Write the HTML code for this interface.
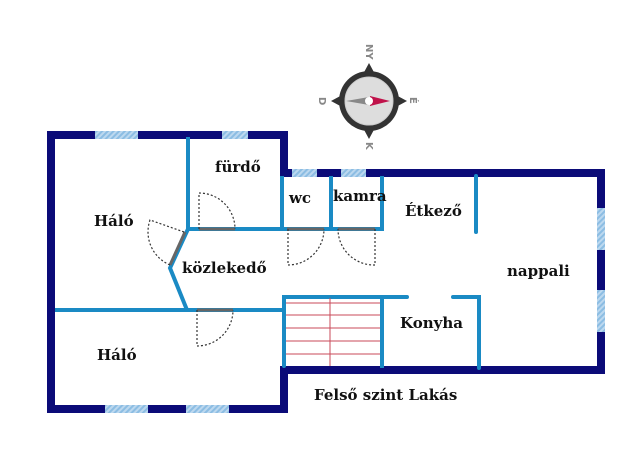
<!DOCTYPE html>
<html><head><style>body{margin:0;background:#fff}svg{display:block}text{font-family:"DejaVu Serif","Liberation Serif",serif;font-weight:bold;font-size:15px;fill:#111}</style></head><body>
<svg width="640" height="452" viewBox="0 0 640 452">
<defs><pattern id="h" width="4" height="4" patternUnits="userSpaceOnUse" patternTransform="rotate(45)"><rect width="4" height="4" fill="#bcd8ef"/><rect width="2" height="4" fill="#8cbde3"/></pattern></defs>
<g fill="#0b0b78">
<rect x="47" y="131" width="240" height="8"/>
<rect x="280" y="131" width="8" height="46"/>
<rect x="280" y="169" width="325" height="8"/>
<rect x="597" y="169" width="8" height="205"/>
<rect x="280" y="366" width="325" height="8"/>
<rect x="280" y="366" width="8" height="47"/>
<rect x="47" y="405" width="241" height="8"/>
<rect x="47" y="131" width="8" height="282"/>
</g>
<g fill="url(#h)">
<rect x="95" y="131" width="43" height="8"/><rect x="222" y="131" width="26" height="8"/>
<rect x="292" y="169" width="25" height="8"/><rect x="341" y="169" width="25" height="8"/>
<rect x="597" y="208" width="8" height="42"/><rect x="597" y="290" width="8" height="42"/>
<rect x="105" y="405" width="43" height="8"/><rect x="186" y="405" width="43" height="8"/>
</g>
<g stroke="#1a8ac4" stroke-width="4" fill="none" stroke-linecap="butt">
<path d="M188 137V229H384"/>
<path d="M282 176V229M331 176V229M382 176V231"/>
<path d="M476 176V232" stroke-linecap="round"/>
<path d="M188 229L170 268L187 310"/>
<path d="M55 310H284"/>
<path d="M284 366V297H407" stroke-linecap="round"/>
<path d="M453 297H479V368" stroke-linecap="round"/>
<path d="M382 297V368"/>
</g>
<g stroke="#c84a5a" stroke-width="1">
<path d="M286 303H380M286 315H380M286 328H380M286 341H380M286 354H380M330 298V366"/>
</g>
<g stroke="#666" stroke-width="3">
<path d="M199 229H235M287 229H324M338 229H375M197 310H233M185 232L170 265"/>
</g>
<g stroke="#333" stroke-width="1.2" stroke-dasharray="2,2" fill="none">
<path d="M199 229V193A36 36 0 0 1 235 229"/>
<path d="M288 229V265A36 36 0 0 0 324 229"/>
<path d="M375 229V265A36 36 0 0 1 338 229"/>
<path d="M197 310V346A36 36 0 0 0 233 310"/>
<path d="M184 232L150 220A36 36 0 0 0 170 265"/>
</g>
<g>
<path d="M369 63L376 76H362Z M369 139L376 126H362Z M331 101L344 94V108Z M407 101L394 94V108Z" fill="#333"/>
<circle cx="369" cy="101" r="30" fill="#333"/>
<circle cx="369" cy="101" r="24" fill="#ddd" stroke="#ccc"/>
<path d="M369 97L346 101L369 105Z" fill="#888"/>
<path d="M370 96L390 101L370 106Z" fill="#c0124a"/>
<circle cx="369" cy="101" r="4" fill="#fff"/>
<text x="363" y="53" transform="rotate(90 369 50)" style="font-size:10px;fill:#888;font-family:'DejaVu Sans',sans-serif">NY</text>
<text x="365" y="149" transform="rotate(90 369 146)" style="font-size:10px;fill:#888;font-family:'DejaVu Sans',sans-serif">K</text>
<text x="319" y="105" transform="rotate(90 323 101)" style="font-size:10px;fill:#888;font-family:'DejaVu Sans',sans-serif">D</text>
<text x="410" y="105" transform="rotate(90 414 101)" style="font-size:10px;fill:#888;font-family:'DejaVu Sans',sans-serif">É</text>
</g>
<text x="215" y="172">fürdő</text>
<text x="94" y="226">Háló</text>
<text x="289" y="203">wc</text>
<text x="333" y="201">kamra</text>
<text x="405" y="216">Étkező</text>
<text x="182" y="273">közlekedő</text>
<text x="507" y="276">nappali</text>
<text x="400" y="328">Konyha</text>
<text x="97" y="360">Háló</text>
<text x="314" y="400">Felső szint Lakás</text>
</svg>
</body></html>
